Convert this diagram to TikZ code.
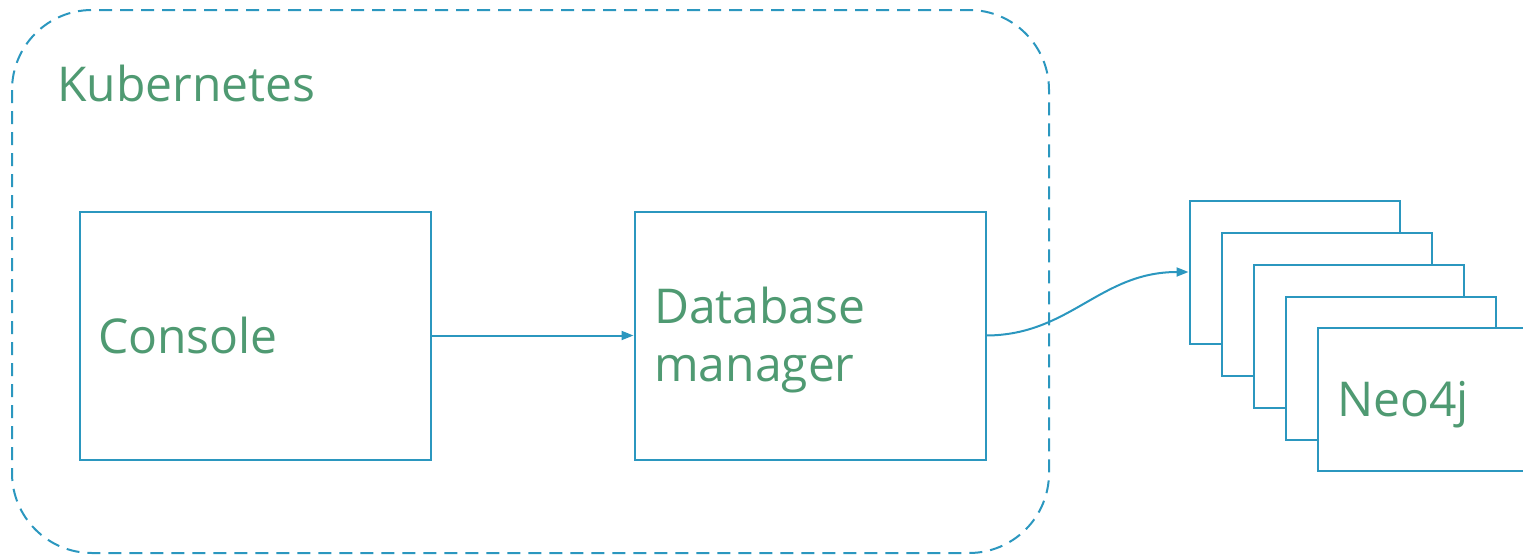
\documentclass[tikz,border=0pt]{standalone}
\usepackage{fontspec}
\setmainfont{Open Sans}
\usetikzlibrary{arrows.meta}
\definecolor{lineblue}{HTML}{2B97BF}
\definecolor{textgreen}{HTML}{4F9A72}
\tikzset{
  box/.style={draw=lineblue, line width=2pt, fill=white, rectangle, inner sep=0pt, anchor=north west},
  lbl/.style={text=textgreen, font=\fontsize{48}{58}\selectfont, inner sep=0pt, anchor=base west},
  conn/.style={draw=lineblue, line width=2pt, -{Triangle[length=12pt,width=9pt]}},
  cluster/.style={draw=lineblue, line width=2pt, dash pattern=on 13pt off 8pt, rounded corners=80pt}
}
\begin{document}
\begin{tikzpicture}[x=1pt,y=-1pt]
\useasboundingbox (0,0) rectangle (1523,555);
\draw[cluster] (12,10) rectangle (1049,553);
\node[lbl] (kube) at (57,101) {Kubernetes};
\node[box, minimum width=351pt, minimum height=248pt] (console) at (78.5,210.5) {};
\node[lbl] (consoletxt) at (98,353) {Console};
\node[box, minimum width=351pt, minimum height=248pt] (dbm) at (633.5,210.5) {};
\node[lbl] (dbtxt1) at (654,323) {Database};
\node[lbl] (dbtxt2) at (654,381) {manager};
\node[box, minimum width=210pt, minimum height=143pt] (n1) at (1188.5,199.5) {};
\node[box, minimum width=210pt, minimum height=143pt] (n2) at (1220.5,231.5) {};
\node[box, minimum width=210pt, minimum height=143pt] (n3) at (1252.5,263.5) {};
\node[box, minimum width=210pt, minimum height=143pt] (n4) at (1284.5,295.5) {};
\node[box, minimum width=210pt, minimum height=143pt] (n5) at (1316.5,326.5) {};
\node[lbl] (neotxt) at (1337,416) {Neo4j};
\draw[conn] (console.east) -- (dbm.west);
\draw[conn] (dbm.east) .. controls (1070,335) and (1100,272) .. (n1.west);
\end{tikzpicture}
\end{document}
